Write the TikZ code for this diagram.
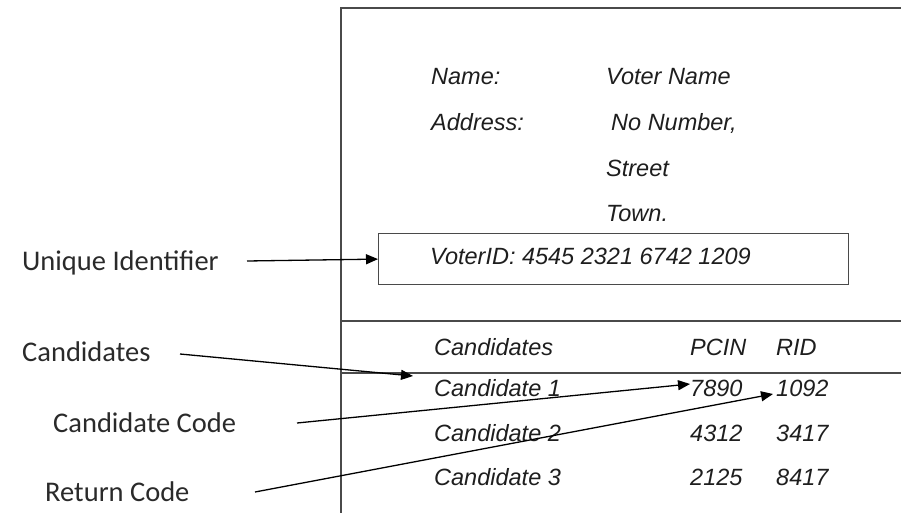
\documentclass[tikz,border=0pt]{standalone}
\usepackage{fontspec}
\setmainfont{Liberation Sans}
\newfontfamily\calibri{Carlito}
\usetikzlibrary{arrows.meta}
\definecolor{boxline}{HTML}{4A4A4A}
\definecolor{txt}{HTML}{1E1E1E}
\definecolor{lbl}{HTML}{2A2A2A}
\begin{document}
\begin{tikzpicture}[x=1pt,y=-1pt,
  frame/.style={draw=boxline,line width=1.2pt},
  field/.style={anchor=base west,inner sep=0pt,text=txt,font=\fontsize{23.5}{26}\selectfont\itshape},
  label/.style={anchor=base west,inner sep=0pt,text=lbl,font=\calibri\fontsize{28.5}{32}\selectfont},
  arr/.style={draw=black,line width=1.3pt,-{Triangle[length=12pt,width=10pt]}}]
\useasboundingbox (0,0) rectangle (901,513);
% outer card
\draw[frame] (901,8) -- (341,8) -- (341,513);
% table band
\draw[frame] (901,321) -- (341,321) -- (341,373) -- (901,373);
% voter id box
\node[frame,draw,minimum width=470pt,minimum height=51pt,anchor=north west,inner sep=0pt] (vid) at (378,233) {};
% fields
\node[field] (name) at (431,84.5) {Name:};
\node[field] (vname) at (606,84.5) {Voter Name};
\node[field] (addr) at (431,130.5) {Address:};
\node[field] (no) at (611,130.5) {No Number,};
\node[field] (street) at (606,176.5) {Street};
\node[field] (town) at (606,221.5) {Town.};
\node[field] (vidt) at (430,264.5) {VoterID: 4545 2321 6742 1209};
% table
\node[field] (hcand) at (434,355.5) {Candidates};
\node[field] (hpcin) at (690,355.5) {PCIN};
\node[field] (hrid) at (776,355.5) {RID};
\node[field] (c1) at (434,396) {Candidate 1};
\node[field] (p1) at (690,396) {7890};
\node[field] (r1) at (776,396) {1092};
\node[field] (c2) at (434,441.5) {Candidate 2};
\node[field] (p2) at (690,441.5) {4312};
\node[field] (r2) at (776,441.5) {3417};
\node[field] (c3) at (434,485.5) {Candidate 3};
\node[field] (p3) at (690,485.5) {2125};
\node[field] (r3) at (776,485.5) {8417};
% left labels
\node[label] (uid) at (22,270) {Unique Identifier};
\node[label] (lcand) at (22,361) {Candidates};
\node[label] (lcode) at (53,432) {Candidate Code};
\node[label] (lret) at (45,501) {Return Code};
% connector ends
\coordinate (s1) at (247,261);
\coordinate (s2) at (180,354);
\coordinate (t2) at (413,376);
\coordinate (s3) at (297,423);
\coordinate (t3) at (690,384);
\coordinate (s4) at (255,492);
\coordinate (t4) at (773,394);
\draw[arr] (s1) -- (vid.west);
\draw[arr] (s2) -- (t2);
\draw[arr] (s3) -- (t3);
\draw[arr] (s4) -- (t4);
\end{tikzpicture}
\end{document}
